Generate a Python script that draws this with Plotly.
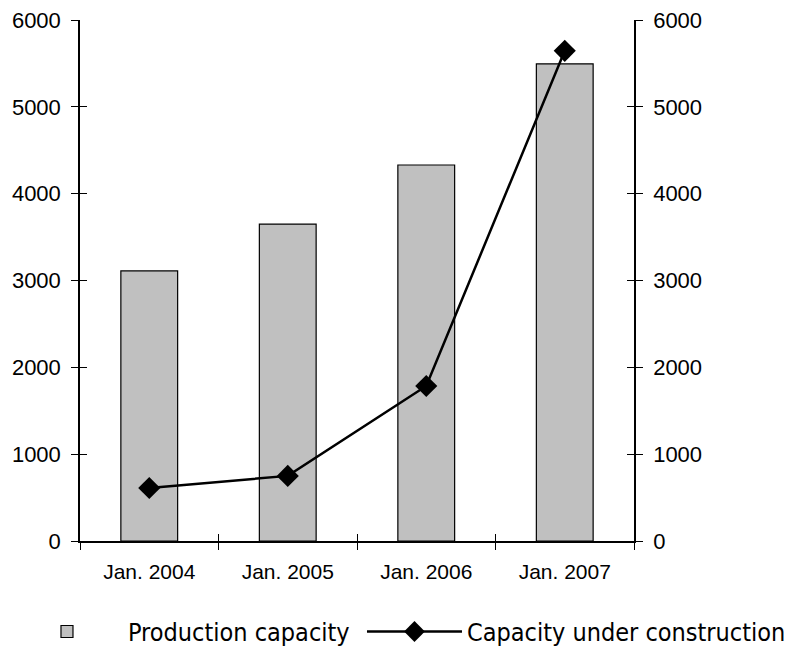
import plotly.graph_objects as go

# ---------------------------------------
# DATA
# ---------------------------------------
periods = ["Jan. 2004", "Jan. 2005", "Jan. 2006", "Jan. 2007"]
production_capacity = [3110, 3650, 4330, 5495]
under_construction = [610, 750, 1785, 5645]
y_ticks = [0, 1000, 2000, 3000, 4000, 5000, 6000]

axis_font = dict(family="Liberation Sans, Arial", size=22, color="black")
legend_font = dict(family="DejaVu Sans Condensed, Liberation Sans", size=25, color="black")

fig = go.Figure()

fig.add_trace(go.Bar(
    x=periods,
    y=production_capacity,
    name="Production capacity",
    marker=dict(color="#c0c0c0", line=dict(color="black", width=1.2)),
    width=0.41,
    legend="legend",
))

fig.add_trace(go.Scatter(
    x=periods,
    y=under_construction,
    name="Capacity under construction",
    mode="lines+markers",
    line=dict(color="black", width=2.5),
    marker=dict(symbol="diamond", size=17, color="black"),
    yaxis="y2",
    legend="legend2",
))

# empty helper traces so the "inside" tick axes get drawn (gives cross ticks)
fig.add_trace(go.Scatter(x=[], y=[], xaxis="x2", yaxis="y3", showlegend=False, hoverinfo="skip"))
fig.add_trace(go.Scatter(x=[], y=[], xaxis="x2", yaxis="y4", showlegend=False, hoverinfo="skip"))

tick_common = dict(tickcolor="black", ticklen=7, tickwidth=1)

fig.update_layout(
    width=807,
    height=650,
    plot_bgcolor="white",
    paper_bgcolor="white",
    margin=dict(l=72, r=181, t=12, b=117, autoexpand=False),
    font=axis_font,
    xaxis=dict(
        type="category",
        tickson="boundaries",
        ticks="outside",
        showline=True,
        linecolor="black",
        linewidth=1.5,
        showgrid=False,
        tickfont=dict(size=21),
        ticklabelstandoff=11,
        **tick_common,
    ),
    xaxis2=dict(
        overlaying="x",
        anchor="y",
        side="bottom",
        range=[-0.5, 3.5],
        tickvals=[-0.5, 0.5, 1.5, 2.5, 3.5],
        ticks="inside",
        showticklabels=False,
        showline=False,
        showgrid=False,
        zeroline=False,
        **tick_common,
    ),
    yaxis=dict(
        range=[0, 6000],
        tickvals=y_ticks,
        ticks="outside",
        showline=True,
        linecolor="black",
        linewidth=1.5,
        showgrid=False,
        zeroline=False,
        ticklabelstandoff=6,
        ticklabeloverflow="allow",
        **tick_common,
    ),
    yaxis2=dict(
        range=[0, 6000],
        tickvals=y_ticks,
        overlaying="y",
        side="right",
        ticks="outside",
        showline=True,
        linecolor="black",
        linewidth=1.5,
        showgrid=False,
        zeroline=False,
        ticklabelstandoff=6,
        ticklabeloverflow="allow",
        **tick_common,
    ),
    yaxis3=dict(
        range=[0, 6000],
        tickvals=y_ticks,
        overlaying="y",
        anchor="x2",
        side="left",
        ticks="inside",
        showticklabels=False,
        showgrid=False,
        zeroline=False,
        **tick_common,
    ),
    yaxis4=dict(
        range=[0, 6000],
        tickvals=y_ticks,
        overlaying="y",
        anchor="x2",
        side="right",
        ticks="inside",
        showticklabels=False,
        showgrid=False,
        zeroline=False,
        **tick_common,
    ),
    showlegend=True,
    legend=dict(
        orientation="h",
        x=-0.1336,
        xanchor="left",
        y=-0.130,
        yanchor="top",
        font=legend_font,
        itemwidth=112,
        bgcolor="rgba(0,0,0,0)",
    ),
    legend2=dict(
        orientation="h",
        x=0.509,
        xanchor="left",
        y=-0.130,
        yanchor="top",
        font=legend_font,
        itemwidth=95,
        bgcolor="rgba(0,0,0,0)",
    ),
    bargap=0.59,
)

fig.write_html("out.html")
